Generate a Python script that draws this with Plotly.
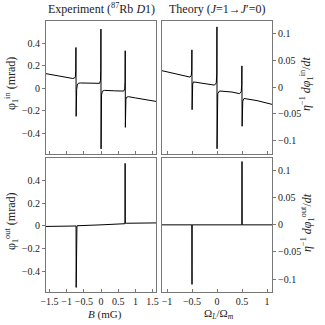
import plotly.graph_objects as go

# ---------------- data ----------------
# Experiment, in-phase (top left)
exp_in_B = [-1.6, -1.2, -0.9, -0.82, -0.77, -0.745, -0.735, -0.729, -0.723, -0.717, -0.708, -0.69, -0.66,
            -0.6, -0.3, -0.1, -0.04, -0.015, -0.006, -0.002, 0.002, 0.006, 0.015, 0.04, 0.1,
            0.4, 0.6, 0.66, 0.69, 0.700, 0.705, 0.709, 0.715, 0.725, 0.75, 0.8, 1.0, 1.3, 1.6]
exp_in_phi = [0.131, 0.108, 0.091, 0.088, 0.092, 0.105, 0.16, 0.364, -0.249, -0.08, -0.01, 0.03, 0.045,
              0.048, 0.044, 0.040, 0.045, 0.07, 0.16, 0.528, -0.539, -0.17, -0.06, -0.025, -0.018,
              -0.022, -0.028, -0.024, -0.005, 0.06, 0.335, -0.347, -0.15, -0.095, -0.078, -0.074, -0.085, -0.1, -0.116]

# Theory, in-phase (top right)
th_in_x = [-1.1, -0.8, -0.6, -0.54, -0.515, -0.506, -0.502, -0.498, -0.494, -0.486, -0.47,
           -0.3, -0.05, -0.015, -0.005, -0.001, 0.001, 0.005, 0.015, 0.05,
           0.3, 0.45, 0.485, 0.494, 0.498, 0.502, 0.506, 0.515, 0.54, 0.8, 1.1]
th_in_y = [0.031, 0.025, 0.020, 0.019, 0.022, 0.032, 0.070, -0.042, -0.006, 0.006, 0.010,
           0.008, 0.004, 0.008, 0.025, 0.113, -0.115, -0.03, -0.012, -0.007,
           -0.009, -0.012, -0.008, 0.005, 0.040, -0.073, -0.04, -0.026, -0.021, -0.025, -0.032]

# Experiment, out-of-phase (bottom left)
exp_out_B = [-1.6, -1.0, -0.74, -0.726, -0.722, -0.718, -0.70, 0.0, 0.68, 0.698, 0.702, 0.706, 0.75, 1.6]
exp_out_phi = [-0.004, -0.002, 0.0, 0.0, -0.54, 0.0, 0.002, 0.010, 0.018, 0.020, 0.55, 0.024, 0.024, 0.027]

# Theory, out-of-phase (bottom right)
th_out_x = [-1.1, -0.503, -0.5, -0.497, 0.497, 0.5, 0.503, 1.1]
th_out_y = [0.0, 0.0, -0.11, 0.0, 0.0, 0.117, 0.0, 0.0]

# tick labels
left_y_vals = [-0.4, -0.2, 0, 0.2, 0.4]
left_y_text = ["\u22120.4", "\u22120.2", "0", "0.2", "0.4"]
right_y_vals = [-0.1, -0.05, 0, 0.05, 0.1]
right_y_text = ["\u22120.1", "\u22120.05", "0", "0.05", "0.1"]
exp_x_vals = [-1.5, -1, -0.5, 0, 0.5, 1, 1.5]
exp_x_text = ["\u22121.5", "\u22121", "\u22120.5", "0", "0.5", "1", "1.5"]
th_x_vals = [-1, -0.5, 0, 0.5, 1]
th_x_text = ["\u22121", "\u22120.5", "0", "0.5", "1"]

# ---------------- figure ----------------
FONT = "Liberation Serif, Times New Roman, serif"
W, H = 325, 325
L, R, T, B = 46, 53, 21, 33
pw, ph = W - L - R, H - T - B


def px2x(px):
    return (px - L) / pw


def py2y(py):
    return (H - B - py) / ph


line = dict(color="black", width=1)
fig = go.Figure()
fig.add_trace(go.Scatter(x=exp_in_B, y=exp_in_phi, mode="lines", line=line, xaxis="x", yaxis="y"))
fig.add_trace(go.Scatter(x=th_in_x, y=th_in_y, mode="lines", line=line, xaxis="x2", yaxis="y2"))
fig.add_trace(go.Scatter(x=exp_out_B, y=exp_out_phi, mode="lines", line=line, xaxis="x3", yaxis="y3"))
fig.add_trace(go.Scatter(x=th_out_x, y=th_out_y, mode="lines", line=line, xaxis="x4", yaxis="y4"))

dl = [0, px2x(156)]
dr = [px2x(162), 1]
dt = [py2y(153.5), 1]
db = [0, py2y(157.7)]

axcommon = dict(showgrid=False, zeroline=False, showline=True, mirror=True,
                linecolor="#777", linewidth=1, tickcolor="#777", ticklen=3,
                tickfont=dict(family=FONT, size=10, color="#222"))

xl = dict(range=[-1.6, 1.6], tickmode="array", tickvals=exp_x_vals, ticktext=exp_x_text, ticks="inside")
xr = dict(range=[-1.1, 1.1], tickmode="array", tickvals=th_x_vals, ticktext=th_x_text, ticks="inside")
yl = dict(range=[-0.58, 0.6], tickmode="array", tickvals=left_y_vals, ticktext=left_y_text, ticks="outside")
yr = dict(range=[-0.124, 0.124], tickmode="array", tickvals=right_y_vals, ticktext=right_y_text,
          ticks="outside", side="right")

fig.update_layout(
    width=W, height=H, margin=dict(l=L, r=R, t=T, b=B, autoexpand=False),
    plot_bgcolor="white", paper_bgcolor="white", showlegend=False,
    font=dict(family=FONT, color="#222"),
    xaxis=dict(**axcommon, **xl, domain=dl, anchor="y", showticklabels=False),
    yaxis=dict(**axcommon, **yl, domain=dt, anchor="x"),
    xaxis2=dict(**axcommon, **xr, domain=dr, anchor="y2", showticklabels=False),
    yaxis2=dict(**axcommon, **yr, domain=dt, anchor="x2"),
    xaxis3=dict(**axcommon, **xl, domain=dl, anchor="y3"),
    yaxis3=dict(**axcommon, **yl, domain=db, anchor="x3"),
    xaxis4=dict(**axcommon, **xr, domain=dr, anchor="y4"),
    yaxis4=dict(**axcommon, **yr, domain=db, anchor="x4"),
)

ann = []


def add(text, px, py, size=12, angle=0):
    ann.append(dict(text=text, x=px2x(px), y=py2y(py), xref="paper", yref="paper",
                    showarrow=False, xanchor="center", yanchor="middle", textangle=angle,
                    font=dict(family=FONT, size=size, color="#222")))


add("Experiment (<sup>87</sup>Rb <i>D</i>1)", 101, 9)
add("Theory (<i>J</i>=1\u2192<i>J</i>\u2032=0)", 217, 9)
add("\u03c6<sub>1</sub><sup>in</sup> (mrad)", 12, 84, 12, -90)
add("\u03c6<sub>1</sub><sup>out</sup> (mrad)", 12, 222, 12, -90)
add("<i>\u03b7</i><sup>\u22121</sup> <i>d\u03c6</i><sub>1</sub><sup>in</sup>/<i>dt</i>", 307, 84, 12, -90)
add("<i>\u03b7</i><sup>\u22121</sup> <i>d\u03c6</i><sub>1</sub><sup>out</sup>/<i>dt</i>", 307, 223, 12, -90)
add("<i>B</i> (mG)", 105, 314, 11)
add("\u03a9<sub><i>L</i></sub>/\u03a9<sub><i>m</i></sub>", 219, 314, 11)
fig.update_layout(annotations=ann)

# the page's default 8px body margin would shift the figure; remove it
fig.write_html("out.html", config={"displayModeBar": False},
               post_script="document.body.style.margin='0';document.body.style.overflow='hidden';")
